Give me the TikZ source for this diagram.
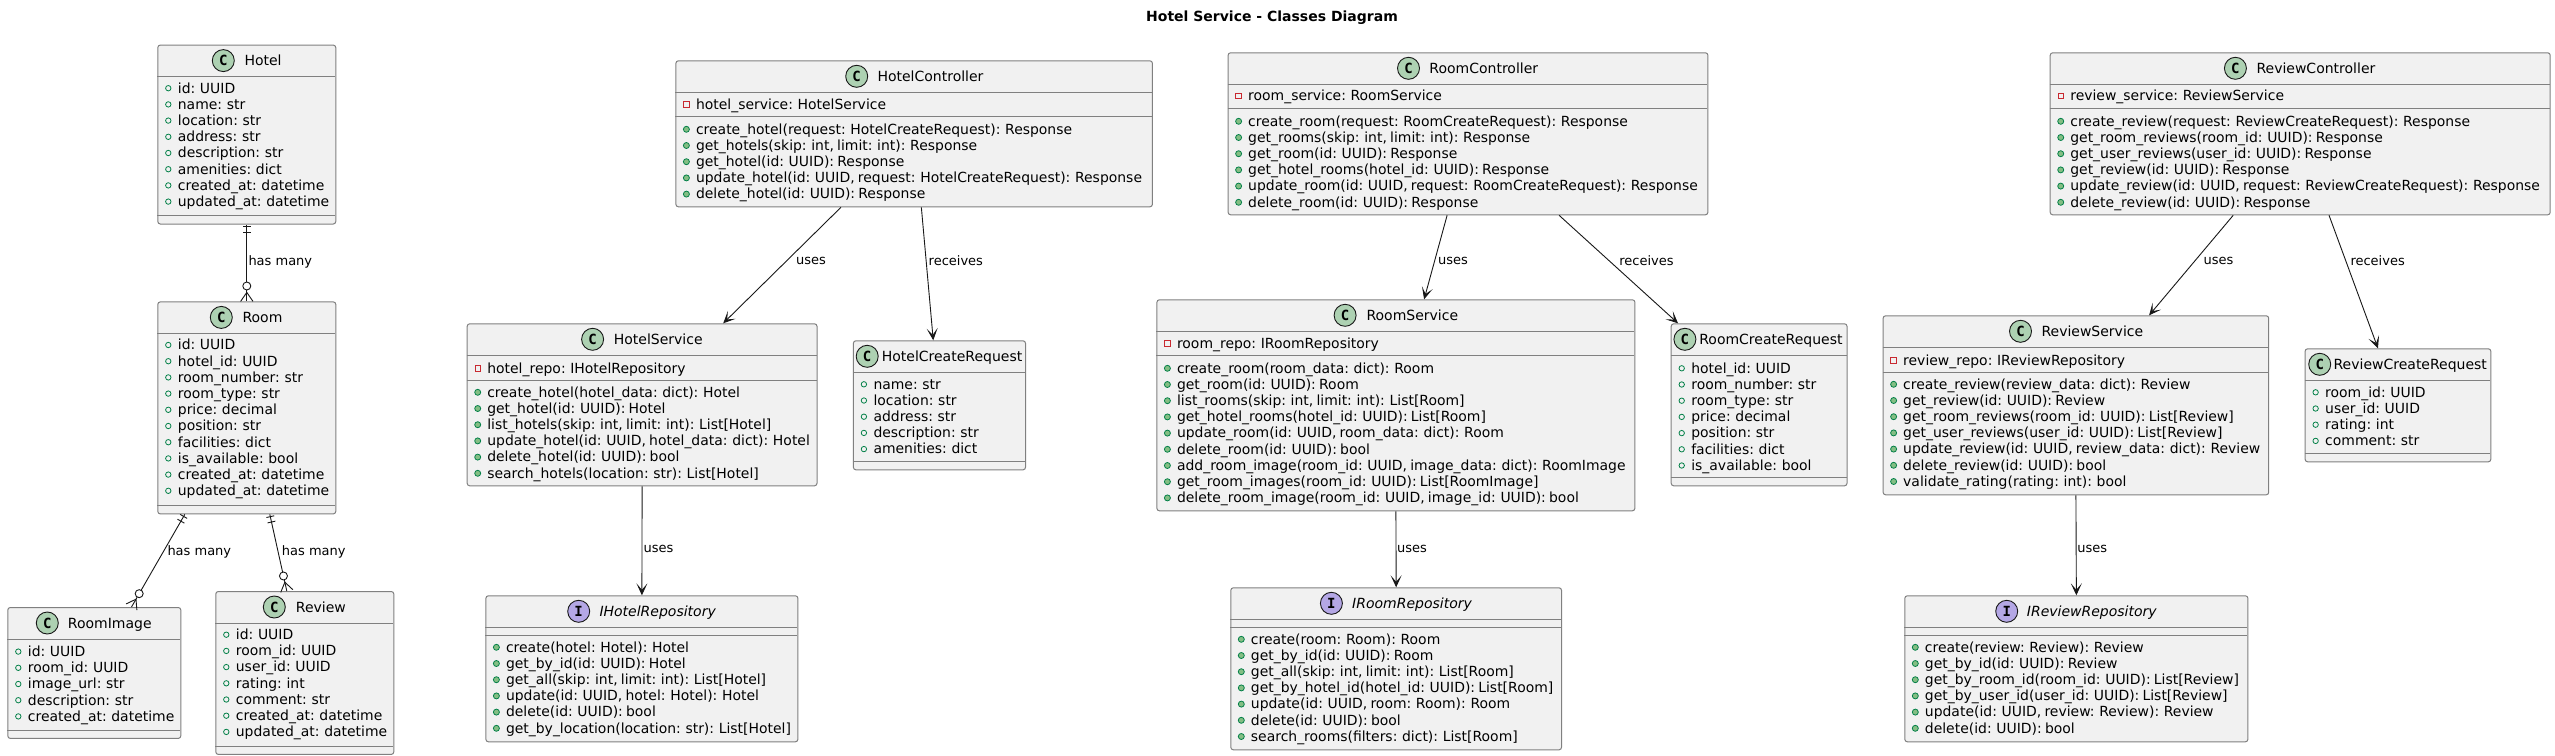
\documentclass[tikz,border=0pt]{standalone}
\usepackage{fontspec}
\setmainfont{DejaVu Sans}[WordSpace=0.72]
\newfontfamily\plainfont{DejaVu Sans}
\newfontfamily\badgefont{DejaVu Sans Mono}
\usetikzlibrary{arrows.meta,calc}
\definecolor{boxfill}{HTML}{F1F1F1}
\definecolor{boxline}{HTML}{808080}
\definecolor{inkline}{HTML}{181818}
\definecolor{cbadge}{HTML}{ADD1B2}
\definecolor{ibadge}{HTML}{B4A7E5}
\definecolor{icongreen}{HTML}{038048}
\definecolor{iconfill}{HTML}{84BE84}
\definecolor{iconred}{HTML}{C82930}
\tikzset{
  classbox/.style={draw=boxline,fill=boxfill,line width=1pt,rounded corners=2.5pt,inner sep=0pt,anchor=north west},
  sepline/.style={draw=boxline,line width=1pt},
  badge/.style={circle,draw=inkline,line width=.9pt,minimum size=22pt,inner sep=0pt,font=\badgefont\bfseries\fontsize{14}{14}\selectfont,text=black},
  titletext/.style={anchor=base west,inner sep=0pt,font=\fontsize{14}{16}\selectfont,text=black},
  rowtext/.style={anchor=base west,inner sep=0pt,font=\fontsize{13.95}{16}\selectfont,text=black},
  linktext/.style={anchor=west,inner sep=0pt,font=\plainfont\fontsize{13}{15}\selectfont,text=black},
  heading/.style={inner sep=0pt,font=\plainfont\bfseries\fontsize{14}{16}\selectfont,text=black},
  link/.style={draw=inkline,line width=.9pt},
  uselink/.style={link,-{Stealth[length=12pt,width=11pt,inset=6.5pt]}},
  fieldicon/.style={draw=icongreen,line width=.8pt},
  methodicon/.style={draw=icongreen,fill=iconfill,line width=.8pt},
  privicon/.style={draw=iconred,line width=.8pt},
}
% name, x1, y1, x2, y2, badge letter, badge x, title x, title
\newcommand\umlbox[9]{%
  \def\curN{#1}\def\curA{#2}\def\curB{#4}%
  \pgfmathsetmacro\boxW{#4-#2}\pgfmathsetmacro\boxH{#5-#3}%
  \node[classbox,minimum width=\boxW pt,minimum height=\boxH pt] (#1) at (#2,#3) {};
  \pgfmathsetmacro\hdrY{#3+16}\pgfmathsetmacro\lineY{#3+32}\pgfmathsetmacro\titleY{#3+21}%
  \draw[sepline] (#2,\lineY) -- (#4,\lineY);
  \if#6C\def\badgecol{cbadge}\else\def\badgecol{ibadge}\fi
  \node[badge,fill=\badgecol] (#1-b) at (#7,\hdrY) {#6};
  \node[titletext] (#1-t) at (#8,\titleY) {#9};
}
\newcommand\sepat[1]{\draw[sepline] (\curA,#1) -- (\curB,#1);}
% kind (f, m, p), y centre of the first row, list of rows
\newcommand\rowlist[3]{%
  \foreach \rowT [count=\rowI from 0] in {#3}{%
    \pgfmathsetmacro\rowY{#2+\rowI*16.2}%
    \pgfmathsetmacro\rowB{\rowY+4.8}%
    \pgfmathsetmacro\iconX{\curA+11}%
    \pgfmathsetmacro\textX{\curA+20.4}%
    \if#1f\draw[fieldicon] (\iconX,\rowY) circle[radius=2.7pt];\fi
    \if#1m\draw[methodicon] (\iconX,\rowY) circle[radius=3pt];\fi
    \if#1p\pgfmathsetmacro\iconXa{\iconX-2.8}\pgfmathsetmacro\iconXb{\iconX+2.8}%
      \pgfmathsetmacro\iconYa{\rowY-2.8}\pgfmathsetmacro\iconYb{\rowY+2.8}%
      \draw[privicon] (\iconXa,\iconYa) rectangle (\iconXb,\iconYb);\fi
    \node[rowtext] (\curN-#1\rowI) at (\textX,\rowB) {\rowT};
  }%
}
% crow-foot relation: from a point on one node to a point on another
\newcommand\erlink[2]{%
  \coordinate (erP) at #1;
  \coordinate (erQ) at #2;
  \draw[link] (erP) -- ($(erQ)!19.4pt!(erP)$);
  \draw[link] ($(erP)!2.3pt!(erQ)!4pt!90:(erQ)$) -- ($(erP)!2.3pt!(erQ)!4pt!-90:(erQ)$);
  \draw[link] ($(erP)!7.8pt!(erQ)!4pt!90:(erQ)$) -- ($(erP)!7.8pt!(erQ)!4pt!-90:(erQ)$);
  \draw[link,fill=white] ($(erQ)!15.4pt!(erP)$) circle[radius=4pt];
  \draw[link] ($(erQ)!11.4pt!(erP)$) -- (erQ);
  \draw[link] ($(erQ)!9pt!(erP)$) -- ($(erQ)!6.2pt!90:(erP)$);
  \draw[link] ($(erQ)!9pt!(erP)$) -- ($(erQ)!6.2pt!-90:(erP)$);
}
\begin{document}
\begin{tikzpicture}[x=1pt,y=-1pt]
\useasboundingbox (0,0) rectangle (2555,755);
\fill[white] (0,0) rectangle (2555,755);
\node[heading] (diagramtitle) at (1272,18) {Hotel Service - Classes Diagram};

% ---------- entities
\umlbox{hotel}{157.3}{44.6}{335.3}{223.5}{C}{223.3}{244.3}{Hotel}
\sepat{215.6}
\rowlist{f}{88.2}{{id: UUID},{name: str},{location: str},{address: str},{description: str},{amenities: dict},{created\_at: datetime},{updated\_at: datetime}}

\umlbox{room}{157.3}{301.4}{335.3}{513.4}{C}{221.3}{242.3}{Room}
\sepat{505.8}
\rowlist{f}{345}{{id: UUID},{hotel\_id: UUID},{room\_number: str},{room\_type: str},{price: decimal},{position: str},{facilities: dict},{is\_available: bool},{created\_at: datetime},{updated\_at: datetime}}

\umlbox{roomimage}{7.3}{607}{180.3}{737.9}{C}{47.3}{67.7}{RoomImage}
\sepat{730}
\rowlist{f}{651.6}{{id: UUID},{room\_id: UUID},{image\_url: str},{description: str},{created\_at: datetime}}

\umlbox{review}{215.3}{591}{393.3}{753.9}{C}{274.3}{295.7}{Review}
\sepat{746}
\rowlist{f}{634.7}{{id: UUID},{room\_id: UUID},{user\_id: UUID},{rating: int},{comment: str},{created\_at: datetime},{updated\_at: datetime}}

% ---------- hotel stack
\umlbox{hotelctl}{675.4}{60.3}{1151.9}{206.3}{C}{856.7}{877.3}{HotelController}
\sepat{116.3}
\rowlist{p}{104.3}{{hotel\_service: HotelService}}
\rowlist{m}{129.3}{{create\_hotel(request: HotelCreateRequest): Response},{get\_hotels(skip: int, limit: int): Response},{get\_hotel(id: UUID): Response},{update\_hotel(id: UUID, request: HotelCreateRequest): Response},{delete\_hotel(id: UUID): Response}}

\umlbox{hotelsvc}{466.7}{323.3}{816.5}{485.3}{C}{592.6}{613.6}{HotelService}
\sepat{380}
\rowlist{p}{368.3}{{hotel\_repo: IHotelRepository}}
\rowlist{m}{392.3}{{create\_hotel(hotel\_data: dict): Hotel},{get\_hotel(id: UUID): Hotel},{list\_hotels(skip: int, limit: int): List[Hotel]},{update\_hotel(id: UUID, hotel\_data: dict): Hotel},{delete\_hotel(id: UUID): bool},{search\_hotels(location: str): List[Hotel]}}

\umlbox{hotelreq}{852.9}{340.3}{1025}{469.3}{C}{867.2}{881.6}{HotelCreateRequest}
\sepat{461.3}
\rowlist{f}{384.3}{{name: str},{location: str},{address: str},{description: str},{amenities: dict}}

\umlbox{hotelrepo}{485.4}{595.3}{797.4}{741.3}{I}{578.7}{599.3}{\itshape IHotelRepository}
\sepat{635.3}
\rowlist{m}{647.3}{{create(hotel: Hotel): Hotel},{get\_by\_id(id: UUID): Hotel},{get\_all(skip: int, limit: int): List[Hotel]},{update(id: UUID, hotel: Hotel): Hotel},{delete(id: UUID): bool},{get\_by\_location(location: str): List[Hotel]}}

% ---------- room stack
\umlbox{roomctl}{1227.6}{52.3}{1707.4}{214.3}{C}{1408.5}{1429.2}{RoomController}
\sepat{108.3}
\rowlist{p}{96}{{room\_service: RoomService}}
\rowlist{m}{121.3}{{create\_room(request: RoomCreateRequest): Response},{get\_rooms(skip: int, limit: int): Response},{get\_room(id: UUID): Response},{get\_hotel\_rooms(hotel\_id: UUID): Response},{update\_room(id: UUID, request: RoomCreateRequest): Response},{delete\_room(id: UUID): Response}}

\umlbox{roomsvc}{1156.4}{299.3}{1634.4}{510.3}{C}{1345.1}{1366.3}{RoomService}
\sepat{355.3}
\rowlist{p}{343.3}{{room\_repo: IRoomRepository}}
\rowlist{m}{368.3}{{create\_room(room\_data: dict): Room},{get\_room(id: UUID): Room},{list\_rooms(skip: int, limit: int): List[Room]},{get\_hotel\_rooms(hotel\_id: UUID): List[Room]},{update\_room(id: UUID, room\_data: dict): Room},{delete\_room(id: UUID): bool},{add\_room\_image(room\_id: UUID, image\_data: dict): RoomImage},{get\_room\_images(room\_id: UUID): List[RoomImage]},{delete\_room\_image(room\_id: UUID, image\_id: UUID): bool}}

\umlbox{roomreq}{1670.7}{323.3}{1846.5}{485.3}{C}{1684.9}{1699.1}{RoomCreateRequest}
\sepat{477.3}
\rowlist{f}{368.3}{{hotel\_id: UUID},{room\_number: str},{room\_type: str},{price: decimal},{position: str},{facilities: dict},{is\_available: bool}}

\umlbox{roomrepo}{1230.3}{587.3}{1561}{749.3}{I}{1331.4}{1352}{\itshape IRoomRepository}
\sepat{627.3}
\rowlist{m}{639.3}{{create(room: Room): Room},{get\_by\_id(id: UUID): Room},{get\_all(skip: int, limit: int): List[Room]},{get\_by\_hotel\_id(hotel\_id: UUID): List[Room]},{update(id: UUID, room: Room): Room},{delete(id: UUID): bool},{search\_rooms(filters: dict): List[Room]}}

% ---------- review stack
\umlbox{reviewctl}{2049.7}{52.3}{2549.7}{214.3}{C}{2235.4}{2256.3}{ReviewController}
\sepat{108.3}
\rowlist{p}{96}{{review\_service: ReviewService}}
\rowlist{m}{121.3}{{create\_review(request: ReviewCreateRequest): Response},{get\_room\_reviews(room\_id: UUID): Response},{get\_user\_reviews(user\_id: UUID): Response},{get\_review(id: UUID): Response},{update\_review(id: UUID, request: ReviewCreateRequest): Response},{delete\_review(id: UUID): Response}}

\umlbox{reviewsvc}{1882.6}{315.3}{2268.2}{494.3}{C}{2020.5}{2041.3}{ReviewService}
\sepat{372.3}
\rowlist{p}{360.3}{{review\_repo: IReviewRepository}}
\rowlist{m}{384.3}{{create\_review(review\_data: dict): Review},{get\_review(id: UUID): Review},{get\_room\_reviews(room\_id: UUID): List[Review]},{get\_user\_reviews(user\_id: UUID): List[Review]},{update\_review(id: UUID, review\_data: dict): Review},{delete\_review(id: UUID): bool},{validate\_rating(rating: int): bool}}

\umlbox{reviewreq}{2304.6}{348.3}{2490.3}{461.3}{C}{2319.7}{2333.4}{ReviewCreateRequest}
\sepat{453.3}
\rowlist{f}{392.3}{{room\_id: UUID},{user\_id: UUID},{rating: int},{comment: str}}

\umlbox{reviewrepo}{1904.3}{595.3}{2247.4}{741.3}{I}{2006.7}{2026.7}{\itshape IReviewRepository}
\sepat{635.3}
\rowlist{m}{647.3}{{create(review: Review): Review},{get\_by\_id(id: UUID): Review},{get\_by\_room\_id(room\_id: UUID): List[Review]},{get\_by\_user\_id(user\_id: UUID): List[Review]},{update(id: UUID, review: Review): Review},{delete(id: UUID): bool}}

% ---------- relations between entities
\erlink{(hotel.south)}{(room.north)}
\erlink{([xshift=-62pt]room.south)}{([xshift=37.2pt]roomimage.north)}
\erlink{([xshift=23pt]room.south)}{([xshift=-18pt]review.north)}
\node[linktext] (l1) at (248.3,262) {has many};
\node[linktext] (l2) at (167.3,552) {has many};
\node[linktext] (l3) at (281.7,552) {has many};

% ---------- uses / receives
\draw[uselink] ([xshift=-73.2pt]hotelctl.south) -- ([xshift=81.1pt]hotelsvc.north);
\draw[uselink] ([xshift=7.2pt]hotelctl.south) -- ([xshift=-6.2pt]hotelreq.north);
\draw[uselink] (hotelsvc.south) -- (hotelrepo.north);
\node[linktext] (l4) at (796,260.7) {uses};
\node[linktext] (l5) at (928.5,260.7) {receives};
\node[linktext] (l6) at (643.3,549) {uses};

\draw[uselink] ([xshift=-20.9pt]roomctl.south) -- ([xshift=28.2pt]roomsvc.north);
\draw[uselink] ([xshift=91.1pt]roomctl.south) -- ([xshift=-81.1pt]roomreq.north);
\draw[uselink] (roomsvc.south) -- (roomrepo.north);
\node[linktext] (l7) at (1437.9,260.7) {uses};
\node[linktext] (l8) at (1619.2,260.7) {receives};
\node[linktext] (l9) at (1397,549) {uses};

\draw[uselink] ([xshift=-67pt]reviewctl.south) -- ([xshift=73.2pt]reviewsvc.north);
\draw[uselink] ([xshift=28.8pt]reviewctl.south) -- ([xshift=-20pt]reviewreq.north);
\draw[uselink] (reviewsvc.south) -- (reviewrepo.north);
\node[linktext] (l10) at (2203.5,260.7) {uses};
\node[linktext] (l11) at (2350.3,260.7) {receives};
\node[linktext] (l12) at (2077.2,549) {uses};
\end{tikzpicture}
\end{document}
